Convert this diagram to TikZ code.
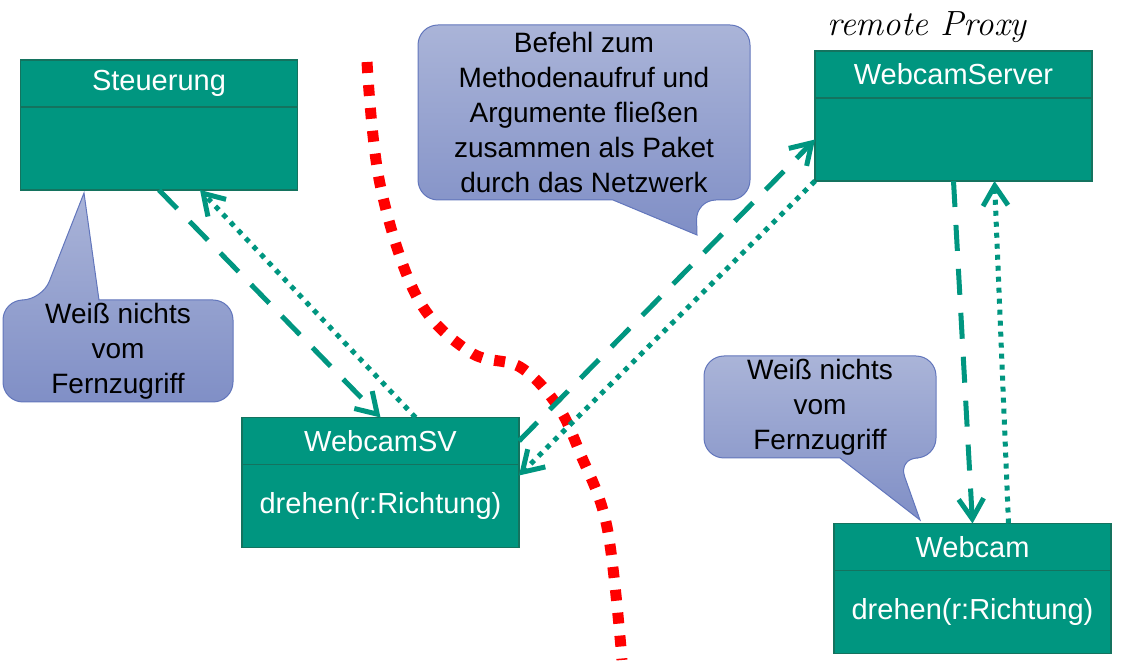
\documentclass[tikz,border=0pt]{standalone}
\usepackage{fontspec}
\setsansfont{Liberation Sans}
\usepackage{xcolor}
\usepackage{tikz}
\usetikzlibrary{arrows.meta,positioning,backgrounds}

\definecolor{umlteal}{RGB}{0,150,128}
\definecolor{umledge}{RGB}{20,115,95}
\definecolor{notetop}{RGB}{170,180,216}
\definecolor{notebot}{RGB}{128,143,198}
\definecolor{noteedge}{RGB}{98,118,188}

\begin{document}
\begin{tikzpicture}[x=1pt,y=1pt,
  >={Straight Barb[length=20pt,width=25pt,line width=5pt,line join=miter]},
  classhead/.style={draw=umledge,line width=1.5pt,fill=umlteal,text=white,
    font=\sffamily\fontsize{29}{34}\selectfont,minimum width=277pt,
    minimum height=47pt,inner sep=0pt,outer sep=0pt},
  classbody/.style={classhead,minimum height=83pt},
  notetext/.style={font=\sffamily\fontsize{28}{35}\selectfont,align=center,
    inner sep=0pt,outer sep=0pt},
  noteshape/.style={draw=noteedge,line width=1pt,top color=notetop,bottom color=notebot},
  callarrow/.style={->,umlteal,line width=5pt,dash pattern=on 26pt off 18pt},
  returnarrow/.style={->,umlteal,line width=5pt,dash pattern=on 5pt off 6pt},
  netline/.style={red,line width=11pt,dash pattern=on 11pt off 12pt}]

  \useasboundingbox (0,0) rectangle (1124,664);

  % Netzwerkgrenze
  \draw[netline] plot[smooth,tension=0.6] coordinates {(367,602) (380,480) (417,367)
    (470,312) (520,297) (557,259) (580,211) (607,137) (622,4)};

  % Klassen
  \node[classhead] (steuerHead) at (159,580.5) {Steuerung};
  \node[classbody,below=0pt of steuerHead] (steuerBody) {};
  \node[classhead] (serverHead) at (953.5,589.5) {WebcamServer};
  \node[classbody,below=0pt of serverHead] (serverBody) {};
  \node[classhead] (svHead) at (380.5,223) {WebcamSV};
  \node[classbody,below=0pt of svHead] (svBody) {drehen(r:Richtung)};
  \node[classhead] (camHead) at (972.5,117) {Webcam};
  \node[classbody,below=0pt of camHead] (camBody) {drehen(r:Richtung)};

  \node[font=\itshape\fontsize{35}{35}\selectfont] (proxyNote) at (927,637) {remote Proxy};

  % Notizen
  \node[notetext,minimum width=230pt,minimum height=102pt] (noteL) at (118,313)
    {Weiß nichts\\vom\\Fernzugriff};
  \coordinate (tipL) at (84,471);
  \node[notetext,minimum width=332pt,minimum height=175pt] (noteM) at (584,551.5)
    {Befehl zum\\Methodenaufruf und\\Argumente fließen\\zusammen als Paket\\durch das Netzwerk};
  \coordinate (tipM) at (697,429);
  \node[notetext,minimum width=232pt,minimum height=102pt] (noteR) at (820,257)
    {Weiß nichts\\vom\\Fernzugriff};
  \coordinate (tipR) at (920,144);

  \begin{scope}[on background layer]
    \path[noteshape,rounded corners=20pt] (noteL.south) -- (noteL.south west)
      -- (noteL.north west) -- ([xshift=39pt]noteL.north west) [sharp corners]
      -- (tipL) -- ([xshift=96pt]noteL.north west) [rounded corners=20pt]
      -- (noteL.north east) -- (noteL.south east) -- cycle;
    \path[noteshape,rounded corners=20pt] (noteM.north) -- (noteM.north east)
      -- (noteM.south east) -- ([xshift=278pt]noteM.south west) [sharp corners]
      -- (tipM) -- ([xshift=195pt]noteM.south west) [rounded corners=20pt]
      -- (noteM.south west) -- (noteM.north west) -- cycle;
    \path[noteshape,rounded corners=20pt] (noteR.north) -- (noteR.north east)
      -- (noteR.south east) -- ([xshift=194pt]noteR.south west) [sharp corners]
      -- (tipR) -- ([xshift=136pt]noteR.south west) [rounded corners=20pt]
      -- (noteR.south west) -- (noteR.north west) -- cycle;
  \end{scope}

  % Aufrufe und Rueckgaben
  \draw[callarrow] (steuerBody.south) -- (svHead.north);
  \draw[returnarrow] ([xshift=35pt]svHead.north) -- ([xshift=41pt]steuerBody.south);
  \draw[callarrow] (svHead.east) -- (serverBody.west);
  \draw[returnarrow] (serverBody.south west) -- ([yshift=-11pt]svBody.north east);
  \draw[callarrow] (serverBody.south) -- (camHead.north);
  \draw[returnarrow] ([xshift=36pt]camHead.north) -- ([xshift=41pt]serverBody.south);
\end{tikzpicture}
\end{document}
